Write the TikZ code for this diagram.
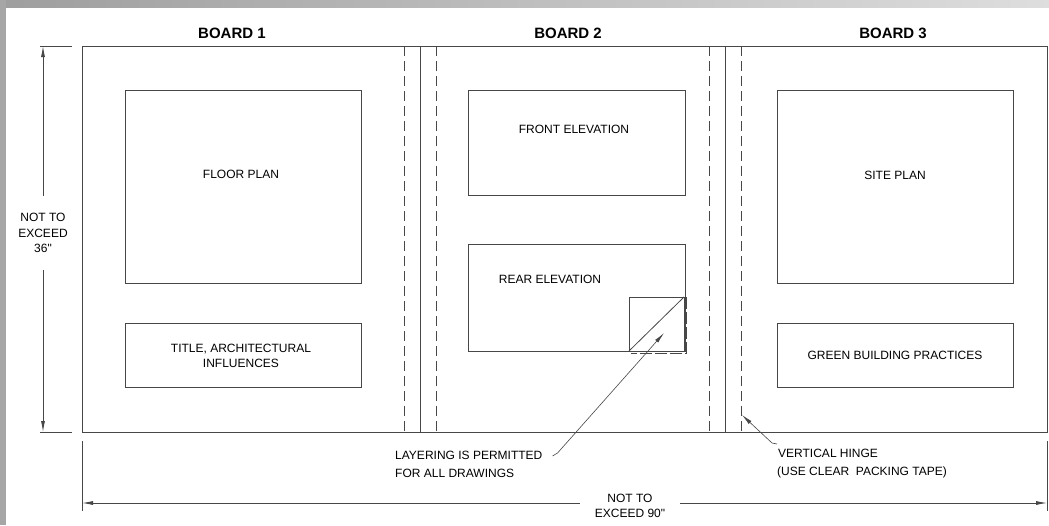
\documentclass[tikz,border=0pt]{standalone}
\usepackage{fontspec}
\setmainfont{Liberation Sans}[Ligatures=TeXOff]
\usetikzlibrary{arrows.meta}
\begin{document}
\begin{tikzpicture}[x=1pt,y=-1pt,
  ln/.style={draw=black!72, line width=0.8pt},
  hid/.style={ln, dash pattern=on 10pt off 5pt},
  panel/.style={ln, inner sep=0pt, outer sep=0pt},
  lbl/.style={font=\fontsize{12}{15.5}\selectfont, inner sep=0pt, text=black},
  ttl/.style={font=\fontsize{15}{17}\selectfont\bfseries, inner sep=0pt, text=black},
  tip/.style={-{Latex[length=11pt,width=4pt]}}
]
\useasboundingbox (0,0) rectangle (1049,525);
\fill[white] (0,0) rectangle (1049,525);
% frame
\shade[left color=black!38, right color=black!13] (0,0) rectangle (1049,7);
\fill[black!35] (0,0) rectangle (6,525);

% titles
\node[ttl] (b1) at (232,33) {BOARD 1};
\node[ttl] (b2) at (568,33) {BOARD 2};
\node[ttl] (b3) at (893,33) {BOARD 3};

% outer boards
\node[panel, minimum width=965pt, minimum height=386pt] (outer) at (564.5,239) {};

% hinges
\draw[ln] (420,46) -- (420,432);
\draw[hid] (404,46) -- (404,432);
\draw[hid] (436,46) -- (436,432);
\draw[ln] (725,46) -- (725,432);
\draw[hid] (709,46) -- (709,432);
\draw[hid] (741,46) -- (741,432);

% board 1
\node[panel, minimum width=236pt, minimum height=193pt] (floor) at (243,186.5) {};
\node[lbl] (floorT) at (241,174) {FLOOR PLAN};
\node[panel, minimum width=236pt, minimum height=64pt] (title) at (243,355) {};
\node[lbl, align=center] (titleT) at (241,356) {TITLE, ARCHITECTURAL\\INFLUENCES};

% board 2
\node[panel, minimum width=217pt, minimum height=105pt] (front) at (576.5,142.5) {};
\node[lbl] (frontT) at (574,129) {FRONT ELEVATION};
\node[panel, minimum width=217pt, minimum height=107pt] (rear) at (576.5,297.5) {};
\node[lbl] (rearT) at (550,279) {REAR ELEVATION};
\node[panel, minimum width=55pt, minimum height=54pt] (sq) at (656.5,324) {};
\draw[ln] (sq.south west) -- (sq.north east);
\draw[ln, dash pattern=on 12pt off 3pt] (686,297) -- (686,353) -- (631,353);

% board 3
\node[panel, minimum width=236pt, minimum height=193pt] (site) at (895,186.5) {};
\node[lbl] (siteT) at (895,175) {SITE PLAN};
\node[panel, minimum width=236pt, minimum height=64pt] (green) at (895,355) {};
\node[lbl] (greenT) at (895,355) {GREEN BUILDING PRACTICES};

% height dimension
\coordinate (hTop) at (43,46);
\coordinate (hBot) at (43,432);
\draw[ln] (40,46) -- (72,46);
\draw[ln] (40,432) -- (72,432);
\node[lbl, align=center, inner ysep=17pt] (h36) at (43,233) {NOT TO\\EXCEED\\36"};
\draw[ln, tip] (h36.north) -- (hTop);
\draw[ln, tip] (h36.south) -- (hBot);

% width dimension
\coordinate (wL) at (82,503);
\coordinate (wR) at (1047,503);
\draw[ln] (82,441) -- (82,511);
\draw[ln] (1047,441) -- (1047,511);
\node[lbl, align=center, inner xsep=15pt] (w90) at (630,506) {NOT TO\\EXCEED 90"};
\draw[ln, tip] (w90.west |- wL) -- (wL);
\draw[ln, tip] (w90.east |- wR) -- (wR);

% layering note
\node[lbl, anchor=west] (lay1) at (395,455) {LAYERING IS PERMITTED};
\node[lbl, anchor=west] (lay2) at (395,473) {FOR ALL DRAWINGS};
\coordinate (layTip) at (664,333);
\draw[ln, line width=0.6pt, tip] ([xshift=10pt,yshift=-1pt]lay1.east) -- ([xshift=15pt,yshift=2pt]lay1.east) -- (layTip);

% hinge note
\node[lbl, anchor=west] (hng1) at (778,453) {VERTICAL HINGE};
\node[lbl, anchor=west] (hng2) at (777,472) {(USE CLEAR\ \ PACKING TAPE)};
\coordinate (hngTip) at (742,415);
\draw[ln, line width=0.6pt, tip] ([xshift=-1pt,yshift=9pt]hng1.west) -- ([xshift=-6pt,yshift=10pt]hng1.west) -- (hngTip);
\end{tikzpicture}
\end{document}
